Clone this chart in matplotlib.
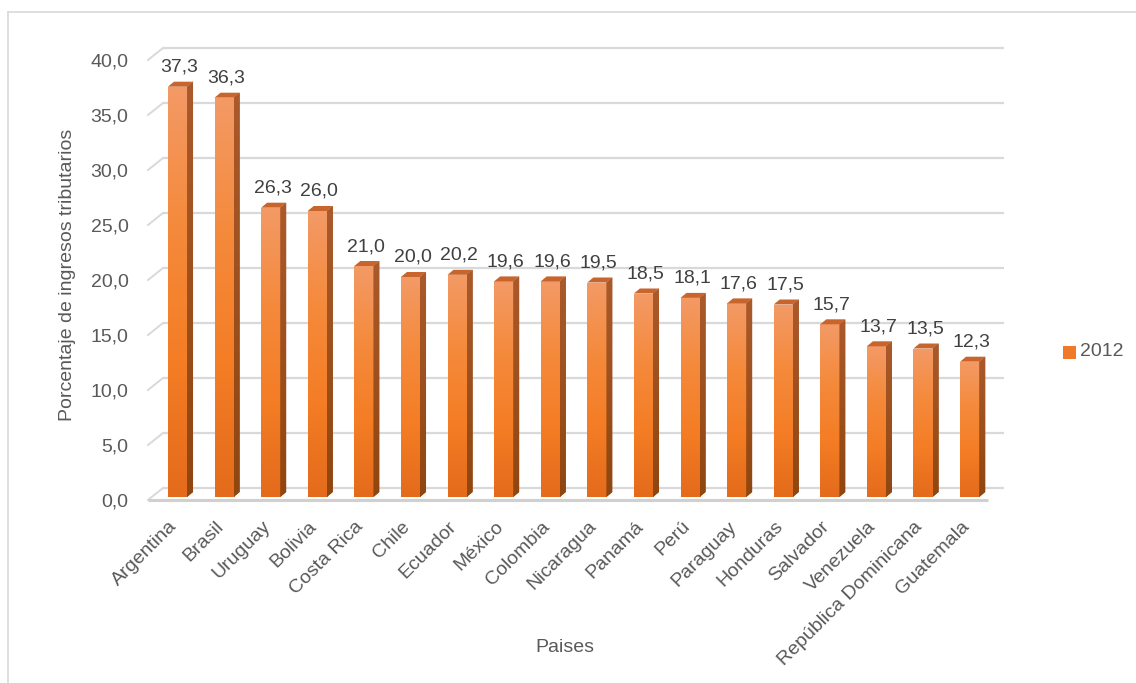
import numpy as np
import matplotlib
matplotlib.use("Agg")
import matplotlib.pyplot as plt
import matplotlib.transforms as mtransforms
from matplotlib.colors import LinearSegmentedColormap
from matplotlib.patches import Polygon, Rectangle
from matplotlib.lines import Line2D

# ---- data ----
paises = ["Argentina", "Brasil", "Uruguay", "Bolivia", "Costa Rica", "Chile",
          "Ecuador", "México", "Colombia", "Nicaragua", "Panamá", "Perú",
          "Paraguay", "Honduras", "Salvador", "Venezuela",
          "República Dominicana", "Guatemala"]
valores_2012 = [37.3, 36.3, 26.3, 26.0, 21.0, 20.0, 20.2, 19.6, 19.6, 19.5,
                18.5, 18.1, 17.6, 17.5, 15.7, 13.7, 13.5, 12.3]
yticks = [0, 5, 10, 15, 20, 25, 30, 35, 40]
serie = "2012"

plt.rcParams["font.family"] = ["Liberation Sans Narrow", "Liberation Sans", "DejaVu Sans"]

W, H, DPI = 1136, 683, 100
fig = plt.figure(figsize=(W / DPI, H / DPI), dpi=DPI)

# plot area (front plane of the pseudo-3D box)
ax_l, ax_r, ax_b, ax_t = 148, 988, 500, 43.5
ax = fig.add_axes([ax_l / W, (H - ax_b) / H, (ax_r - ax_l) / W, (ax_b - ax_t) / H])
ax.set_xlim(-0.547, 17.48)
ax.set_ylim(0, 41.5)
for s in ax.spines.values():
    s.set_visible(False)
ax.set_facecolor("none")

def px(dx, dy):
    """Offset transform in screen pixels (dy positive = up)."""
    return mtransforms.ScaledTranslation(dx / DPI, dy / DPI, fig.dpi_scale_trans)

ux = (17.48 + 0.547) / (ax_r - ax_l)   # data units per pixel, x
uy = 41.5 / (ax_b - ax_t)               # data units per pixel, y

grid_c = "#d9d9d9"
# back wall gridlines with the diagonal side-wall edge at the left
back_dx, back_dy = 15, 12
x0, x1 = ax.get_xlim()
back_right = x0 + (1004 - ax_l) * ux
for v in yticks:
    ax.add_line(Line2D([x0 + back_dx * ux, back_right], [v + back_dy * uy] * 2,
                       color=grid_c, lw=1.6, zorder=1, solid_capstyle="butt",
                       clip_on=False))
    ax.add_line(Line2D([x0, x0 + back_dx * ux], [v, v + back_dy * uy],
                       color=grid_c, lw=1.4, zorder=1, clip_on=False))
# floor front edge
ax.add_line(Line2D([x0, x1], [0, 0], color="#d0d0d0", lw=2.2, zorder=1,
                   solid_capstyle="butt", clip_on=False))

# bars
x = np.arange(len(paises))
bw = 0.41
bar_tr = ax.transData + px(4, 3)
face_cmap = LinearSegmentedColormap.from_list(
    "face", ["#f39a66", "#f58a3c", "#f47d25", "#e46b1b"])
side_cmap = LinearSegmentedColormap.from_list("side", ["#ab5a2b", "#8f460f"])
grad = np.linspace(0, 1, 256).reshape(-1, 1)
sd_x, sd_y = 6 * ux, 5 * uy

bars = ax.bar(x, valores_2012, width=bw, color="#f47d25", transform=bar_tr,
              zorder=3, linewidth=0)
for xi, v, rect in zip(x, valores_2012, bars):
    # front face gradient
    im = ax.imshow(grad, cmap=face_cmap, aspect="auto", interpolation="bilinear",
                   extent=(xi - bw / 2, xi + bw / 2, 0, v), zorder=3.1)
    im.set_transform(bar_tr)
    im.set_clip_path(rect)
    # side face
    xr = xi + bw / 2
    side = Polygon([(xr, 0), (xr + sd_x, sd_y), (xr + sd_x, v + sd_y), (xr, v)],
                   closed=True, facecolor="#9a4d1c", edgecolor="none",
                   transform=bar_tr, zorder=3)
    ax.add_patch(side)
    ims = ax.imshow(grad, cmap=side_cmap, aspect="auto", interpolation="bilinear",
                    extent=(xr, xr + sd_x, 0, v + sd_y), zorder=3.1)
    ims.set_transform(bar_tr)
    ims.set_clip_path(side)
    # top face
    xl = xi - bw / 2
    top = Polygon([(xl, v), (xl + sd_x, v + sd_y), (xr + sd_x, v + sd_y), (xr, v)],
                  closed=True, facecolor="#c8652c", edgecolor="none",
                  transform=bar_tr, zorder=3.2)
    ax.add_patch(top)
    # value label
    ax.text(xi, v, f"{v:.1f}".replace(".", ","), ha="center", va="baseline",
            fontsize=14, color="#404040", transform=ax.transData + px(6, 18),
            zorder=4)

# axes ticks and labels
ax.set_yticks(yticks)
ax.set_yticklabels([f"{t:.1f}".replace(".", ",") for t in yticks])
ax.tick_params(axis="y", length=0, pad=14, labelsize=14, labelcolor="#595959")
ax.set_xticks([])
for xi, name in zip(x, paises):
    ax.text(xi, 0, name, rotation=45, rotation_mode="anchor", ha="right",
            va="center", fontsize=14, color="#595959",
            transform=ax.transData + px(1, -24))

fig.text(565 / W, 1 - 648 / H, "Paises", ha="center", va="center",
         fontsize=14, color="#595959")
fig.text(68 / W, 1 - 275 / H, "Porcentaje de ingresos tributarios", rotation=90,
         ha="center", va="center", fontsize=14, color="#595959")

# legend
fig.patches.append(Rectangle((1063 / W, 1 - 359 / H), 13 / W, 13 / H,
                             transform=fig.transFigure, facecolor="#f07a2a",
                             edgecolor="none"))
fig.text(1080 / W, 1 - 352 / H, serie, ha="left", va="center", fontsize=14,
         color="#595959")

# chart border
fig.add_artist(Line2D([8 / W, 8 / W], [0, 1 - 12 / H], transform=fig.transFigure,
                      color="#d9d9d9", lw=1.2))
fig.add_artist(Line2D([8 / W, 1], [1 - 12 / H, 1 - 12 / H], transform=fig.transFigure,
                      color="#d9d9d9", lw=1.2))

fig.savefig("out.png", dpi=DPI)
